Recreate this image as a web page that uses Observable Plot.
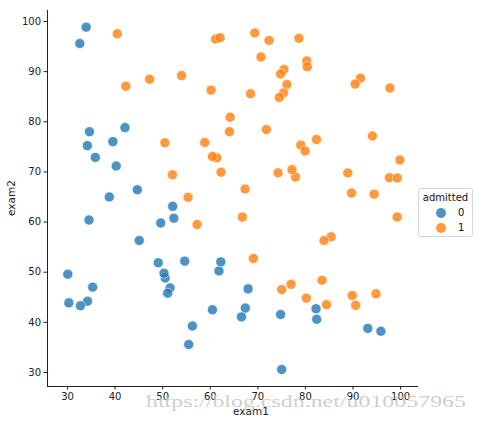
<!DOCTYPE html>
<html><head><meta charset="utf-8">
<script src="https://cdn.jsdelivr.net/npm/d3@7"></script>
<script src="https://cdn.jsdelivr.net/npm/@observablehq/plot@0.6"></script>
<style>
body{margin:0;background:#fff;font-family:"DejaVu Sans",sans-serif;}
#wrap{position:relative;width:477px;height:424px;}
#legend{position:absolute;left:418px;top:188px;width:53px;height:47px;border:1px solid #d6d6d6;border-radius:3px;background:#fff;font-size:10px;color:#111;}
#legend .t{position:absolute;left:0;width:53px;top:3px;text-align:center;}
#legend .row{position:absolute;left:17px;height:12px;line-height:12px;}
#legend .dot{display:inline-block;width:10px;height:10px;border-radius:50%;vertical-align:middle;opacity:0.8;}
#legend .lab{position:absolute;left:22px;top:0;}
</style></head>
<body><div id="wrap"></div>
<script>
const exam1 = [34.62,30.29,35.85,60.18,79.03,45.08,61.11,75.02,76.10,84.43,95.86,75.01,82.31,69.36,39.54,53.97,69.07,67.95,70.66,76.98,67.37,89.68,50.53,34.21,77.92,62.27,80.19,93.11,61.83,38.79,61.38,85.40,52.11,52.05,40.24,54.64,33.92,64.18,74.79,34.18,83.90,51.55,94.44,82.37,51.05,62.22,77.19,97.77,62.07,91.56,79.94,99.27,90.55,34.52,50.29,49.59,97.65,32.58,74.25,71.80,75.40,35.29,56.25,30.06,44.67,66.56,40.46,49.07,80.28,66.75,32.72,64.04,72.35,60.46,58.84,99.83,47.26,50.46,60.46,82.23,88.91,94.83,67.32,57.24,80.37,68.47,42.08,75.48,78.64,52.35,94.09,90.45,55.48,74.49,89.85,83.49,42.26,99.32,55.34,74.78];
const exam2 = [78.02,43.89,72.90,86.31,75.34,56.32,96.51,46.55,87.42,43.53,38.23,30.60,76.48,97.72,76.04,89.21,52.74,46.68,92.93,47.58,42.84,65.80,48.86,44.21,68.97,69.95,44.82,38.80,50.26,65.00,72.81,57.05,63.13,69.43,71.17,52.21,98.87,80.91,41.57,75.24,56.31,46.86,65.57,40.62,45.82,52.06,70.46,86.73,96.77,88.70,74.16,61.00,43.39,60.40,49.80,59.81,68.86,95.60,69.82,78.45,85.76,47.02,39.26,49.59,66.45,41.09,97.54,51.88,92.12,60.99,43.31,78.03,96.23,73.09,75.86,72.37,88.48,75.81,42.51,42.72,69.80,45.69,66.59,59.51,90.96,85.59,78.84,90.42,96.65,60.77,77.16,87.51,35.57,84.85,45.36,48.38,87.10,68.78,64.93,89.53];
const admitted = [0,0,0,1,1,0,1,1,1,1,0,0,1,1,0,1,1,0,1,1,0,1,0,0,1,1,1,0,0,0,1,1,0,1,0,0,0,1,0,0,1,0,1,0,0,0,1,1,1,1,1,1,1,0,0,0,1,0,1,1,1,0,0,0,0,0,1,0,1,1,0,1,1,1,1,1,1,1,0,0,1,1,1,1,1,1,0,1,1,0,1,1,0,1,1,1,1,1,1,1];
const classes = [0, 1];
const colors = ["#1f77b4", "#ff7f0e"];
const xTicks = [30,40,50,60,70,80,90,100];
const yTicks = [30,40,50,60,70,80,90,100];

const rows = exam1.map((e, i) => ({exam1: e, exam2: exam2[i], admitted: admitted[i]}));
const ordered = classes.flatMap(c => rows.filter(r => r.admitted === c));

const plot = Plot.plot({
  width: 477, height: 424,
  marginLeft: 47, marginRight: 60, marginTop: 10, marginBottom: 38,
  style: {fontFamily: "DejaVu Sans, sans-serif", fontSize: "10px", color: "#222", background: "#fff"},
  x: {domain: [25.8, 103.55]},
  y: {domain: [27.21, 102.19]},
  color: {domain: classes, range: colors},
  marks: [
    Plot.frame({anchor: "left", stroke: "#222"}),
    Plot.frame({anchor: "bottom", stroke: "#222"}),
    Plot.axisX(xTicks, {tickSize: 3.5, tickPadding: 3, label: null, stroke: "#222", fill: "#222"}),
    Plot.axisY(yTicks, {tickSize: 3.5, tickPadding: 3, label: null, stroke: "#222", fill: "#222"}),
    Plot.dot(ordered, {x: "exam1", y: "exam2", fill: d => d.admitted, stroke: "white", strokeWidth: 0.7, r: 5, fillOpacity: 0.8, strokeOpacity: 0.8})
  ]
});
const svg = d3.select(plot);
svg.append("text").attr("x", 251).attr("y", 415).attr("text-anchor", "middle")
  .attr("font-size", 10.5).attr("fill", "#222").text("exam1");
svg.append("text").attr("transform", "translate(15,198) rotate(-90)").attr("text-anchor", "middle")
  .attr("font-size", 10.5).attr("fill", "#222").text("exam2");
svg.append("text").attr("x", 146).attr("y", 407).attr("text-anchor", "start")
  .attr("textLength", 320).attr("lengthAdjust", "spacingAndGlyphs")
  .attr("font-family", "Liberation Serif, DejaVu Serif, serif").attr("font-size", 17).attr("fill", "#c9c5bd").attr("fill-opacity", 0.85)
  .text("https://blog.csdn.net/u010057965");

const wrap = document.getElementById("wrap");
wrap.appendChild(plot);
const leg = document.createElement("div");
leg.id = "legend";
leg.innerHTML = `<div class="t">admitted</div>` + classes.map((c, i) =>
  `<div class="row" style="top:${18 + i*15}px"><span class="dot" style="background:${colors[i]}"></span><span class="lab">${c}</span></div>`).join("");
wrap.appendChild(leg);
</script></body></html>
